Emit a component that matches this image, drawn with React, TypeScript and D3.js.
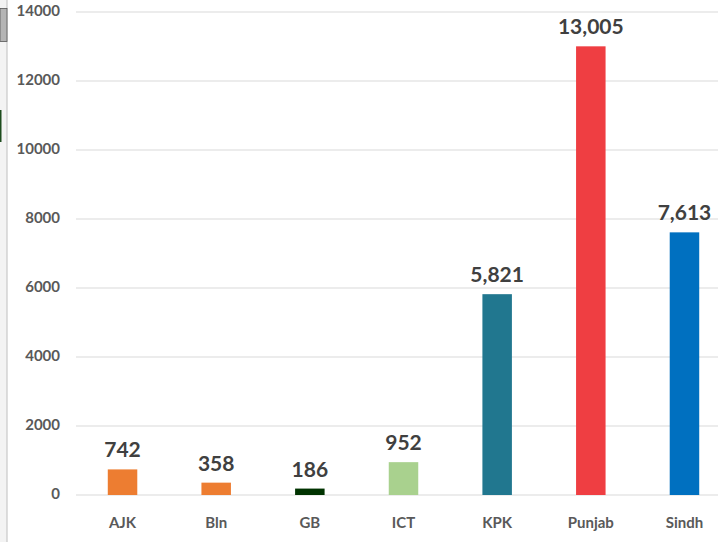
import React from "react";
import * as d3 from "d3";

const categories = ["AJK", "Bln", "GB", "ICT", "KPK", "Punjab", "Sindh"];
const values = [742, 358, 186, 952, 5821, 13005, 7613];
const barColors = ["#ED7D31", "#ED7D31", "#003300", "#A9D18E", "#21778F", "#EF3E42", "#0070C0"];
const yTicks = [0, 2000, 4000, 6000, 8000, 10000, 12000, 14000];

const W = 724;
const H = 542;
const FONT = "Lato, 'Open Sans', sans-serif";

export default function App() {
  const x = d3
    .scaleBand<string>()
    .domain(categories)
    .range([75.7, 731.3])
    .paddingInner(0.685)
    .paddingOuter(0.3425);
  const y = d3.scaleLinear().domain([0, 14000]).range([495, 12]);
  const fmt = d3.format(",");

  return (
    <svg
      width={W}
      height={H}
      style={{ position: "absolute", left: 0, top: 0, background: "#fff" }}
      fontFamily={FONT}
    >
      {/* left edge artifact strip */}
      <rect x={0} y={0} width={7} height={H} fill="#f3f3f3" />
      <line x1={7} x2={7} y1={0} y2={H} stroke="#c8c8c8" strokeWidth={1.2} />
      <rect x={0} y={8.5} width={7} height={33} fill="#b4b4b4" stroke="#555" strokeWidth={0.8} />
      <rect x={0} y={110} width={1.5} height={32} fill="#1e4d1e" />

      {yTicks.map((t) => (
        <g key={t}>
          <line x1={76} x2={718} y1={y(t)} y2={y(t)} stroke="#d9d9d9" strokeWidth={1} />
          <text
            x={60}
            y={y(t)}
            textAnchor="end"
            dominantBaseline="middle"
            fontSize={15}
            fontWeight={700}
            fill="#595959"
          >
            {t}
          </text>
        </g>
      ))}

      {categories.map((c, i) => {
        const bx = x(c)!;
        const bw = x.bandwidth();
        const top = y(values[i]);
        return (
          <g key={c}>
            <rect x={bx} y={top} width={bw} height={y(0) - top} fill={barColors[i]} />
            <text
              x={bx + bw / 2}
              y={top - 12}
              textAnchor="middle"
              fontSize={21}
              fontWeight={700}
              fill="#404040"
            >
              {fmt(values[i])}
            </text>
            <text
              x={bx + bw / 2}
              y={528}
              textAnchor="middle"
              fontSize={15}
              fontWeight={700}
              fill="#595959"
            >
              {c}
            </text>
          </g>
        );
      })}
    </svg>
  );
}
